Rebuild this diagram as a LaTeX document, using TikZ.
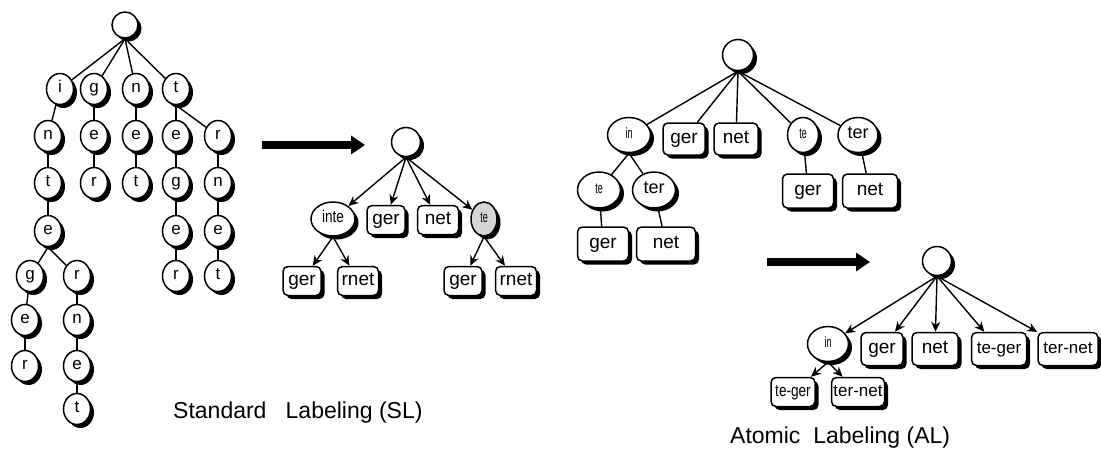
\documentclass[tikz,border=0pt]{standalone}
\usepackage{fontspec}
\setmainfont{Liberation Sans}
\newfontfamily\condfont[FakeStretch=0.8]{Liberation Sans}
\newfontfamily\tightfont[FakeStretch=0.6]{Liberation Sans}
\usetikzlibrary{shapes.geometric,shadows,arrows.meta}
\definecolor{lightgrey}{gray}{0.84}
\tikzset{
  shadowed/.style={drop shadow={shadow xshift=3.5pt,shadow yshift=-3.5pt,fill=black,opacity=1}},
  rootnode/.style={circle,draw,line width=1.5pt,fill=white,shadowed,minimum size=27pt,inner sep=0pt},
  trienode/.style={ellipse,draw,line width=1.5pt,fill=white,shadowed,text height=10pt,text depth=2.5pt,minimum width=27pt,minimum height=31pt,inner sep=0pt,font=\fontsize{17}{17}\selectfont},
  ovalnode/.style={ellipse,draw,line width=1.5pt,fill=white,shadowed,text height=9pt,text depth=2.5pt,inner sep=0pt},
  boxnode/.style={rectangle,rounded corners=5pt,draw,line width=1.5pt,fill=white,shadowed,text height=11pt,text depth=3pt,minimum height=28pt,inner sep=0pt,font=\fontsize{19}{19}\selectfont},
  edge/.style={line width=1.4pt},
  arr/.style={line width=1.4pt,-{Stealth[length=10pt,width=9pt]}},
  bigarrow/.style={line width=8pt,-{Triangle[length=14pt,width=18pt]}},
  caption/.style={anchor=west,inner sep=0pt,font=\fontsize{23}{23}\selectfont}
}
\begin{document}
\begin{tikzpicture}[x=1pt,y=-1pt]
\useasboundingbox (0,0) rectangle (1101,450);
\fill[white] (0,0) rectangle (1101,450);

% ---------- character trie ----------
\node[rootnode,minimum size=26pt] (sr) at (125,25) {};
\node[trienode] (ti)  at (60,89)  {i};
\node[trienode] (tg)  at (94,89)  {g};
\node[trienode] (tn)  at (136,89) {n};
\node[trienode] (tt)  at (176,89) {t};
\node[trienode] (in2) at (48,136)  {n};
\node[trienode] (ge2) at (94,136)  {e};
\node[trienode] (ne2) at (136,136) {e};
\node[trienode] (te2) at (176,136) {e};
\node[trienode] (tr2) at (218,136) {r};
\node[trienode] (in3) at (48,183)  {t};
\node[trienode] (ge3) at (94,183)  {r};
\node[trienode] (ne3) at (136,183) {t};
\node[trienode] (te3) at (176,183) {g};
\node[trienode] (tr3) at (218,183) {n};
\node[trienode] (in4) at (48,231)  {e};
\node[trienode] (te4) at (176,231) {e};
\node[trienode] (tr4) at (218,231) {e};
\node[trienode] (ig5) at (30,276)  {g};
\node[trienode] (ir5) at (77,276)  {r};
\node[trienode] (te5) at (176,276) {r};
\node[trienode] (tr5) at (218,276) {t};
\node[trienode] (ig6) at (25,320)  {e};
\node[trienode] (ir6) at (77,320)  {n};
\node[trienode] (ig7) at (25,366)  {r};
\node[trienode] (ir7) at (77,366)  {e};
\node[trienode] (ir8) at (77,409)  {t};

\foreach \c in {ti,tg,tn,tt} \draw[edge] (sr.south) -- (\c);
\draw[edge] (ti) -- (in2);
\draw[edge] (in2) -- (in3);
\draw[edge] (in3) -- (in4);
\draw[edge] (in4.south) -- (ig5);
\draw[edge] (in4.south) -- (ir5);
\draw[edge] (ig5) -- (ig6);
\draw[edge] (ig6) -- (ig7);
\draw[edge] (ir5) -- (ir6);
\draw[edge] (ir6) -- (ir7);
\draw[edge] (ir7) -- (ir8);
\draw[edge] (tg) -- (ge2);
\draw[edge] (ge2) -- (ge3);
\draw[edge] (tn) -- (ne2);
\draw[edge] (ne2) -- (ne3);
\draw[edge] (tt.south) -- (te2);
\draw[edge] (tt.south) -- (tr2);
\draw[edge] (te2) -- (te3);
\draw[edge] (te3) -- (te4);
\draw[edge] (te4) -- (te5);
\draw[edge] (tr2) -- (tr3);
\draw[edge] (tr3) -- (tr4);
\draw[edge] (tr4) -- (tr5);

% ---------- first transformation arrow ----------
\coordinate (a1s) at (262,145);
\coordinate (a1e) at (365,145);
\draw[bigarrow] (a1s) -- (a1e);

% ---------- standard labeling tree ----------
\node[rootnode,minimum size=29pt] (mr) at (406,142) {};
\node[ovalnode,minimum width=44pt,minimum height=34pt,font=\condfont\fontsize{17}{17}\selectfont] (minte) at (333,219) {inte};
\node[boxnode,minimum width=38pt,minimum height=29pt] (mger) at (386,220) {ger};
\node[boxnode,minimum width=41pt,minimum height=29pt] (mnet) at (438,220) {net};
\node[ovalnode,fill=lightgrey,minimum width=26pt,minimum height=34pt,font=\tightfont\fontsize{15}{15}\selectfont] (mte) at (484,219) {te};
\node[boxnode,minimum width=38pt,minimum height=29pt] (mger2) at (302,281) {ger};
\node[boxnode,minimum width=41pt,minimum height=29pt] (mrnet) at (358,281) {rnet};
\node[boxnode,minimum width=38pt,minimum height=29pt] (mger3) at (463,281) {ger};
\node[boxnode,minimum width=41pt,minimum height=29pt] (mrnet2) at (516,281) {rnet};

\foreach \c in {minte,mger,mnet,mte} \draw[arr] (mr.south) -- (\c);
\draw[arr] (minte.south) -- (mger2);
\draw[arr] (minte.south) -- (mrnet);
\draw[arr] (mte.south) -- (mger3);
\draw[arr] (mte.south) -- (mrnet2);

\node[caption] (slcap) at (173,413) {Standard\ \ \ Labeling (SL)};

% ---------- atomic labeling, intermediate tree ----------
\node[rootnode,minimum size=31pt] (ar) at (738,55) {};
\node[ovalnode,minimum width=43pt,minimum height=35pt,font=\tightfont\fontsize{15}{15}\selectfont] (ain) at (629,135) {in};
\node[boxnode,minimum width=42pt,minimum height=32pt] (ager) at (684,139) {ger};
\node[boxnode,minimum width=44pt,minimum height=32pt] (anet) at (736,139) {net};
\node[ovalnode,minimum width=31pt,minimum height=35pt,font=\tightfont\fontsize{15}{15}\selectfont] (ate) at (803,135) {te};
\node[ovalnode,minimum width=40pt,minimum height=35pt,font=\fontsize{18}{18}\selectfont] (ater) at (858,135) {ter};
\node[ovalnode,minimum width=43pt,minimum height=36pt,font=\tightfont\fontsize{15}{15}\selectfont] (ate2) at (599,190) {te};
\node[ovalnode,minimum width=43pt,minimum height=36pt,font=\fontsize{18}{18}\selectfont] (ater2) at (654,190) {ter};
\node[boxnode,minimum width=51pt,minimum height=34pt] (agerR) at (808,191) {ger};
\node[boxnode,minimum width=55pt,minimum height=34pt] (anetR) at (870,191) {net};
\node[boxnode,minimum width=51pt,minimum height=34pt] (agerL) at (603,244) {ger};
\node[boxnode,minimum width=59pt,minimum height=34pt] (anetL) at (666,244) {net};

\foreach \c in {ain,ager,anet,ate,ater} \draw[edge] (ar.south) -- (\c);
\draw[edge] (ain.south) -- (ate2);
\draw[edge] (ain.south) -- (ater2);
\draw[edge] (ate2) -- (agerL);
\draw[edge] (ater2) -- (anetL);
\draw[edge] (ate) -- (agerR);
\draw[edge] (ater) -- (anetR);

% ---------- second transformation arrow ----------
\coordinate (a2s) at (767,262);
\coordinate (a2e) at (870,262);
\draw[bigarrow] (a2s) -- (a2e);

% ---------- atomic labeling tree ----------
\node[rootnode,minimum size=29pt] (br) at (937,261) {};
\node[ovalnode,minimum width=41pt,minimum height=35pt,font=\tightfont\fontsize{15}{15}\selectfont] (bin) at (828,344) {in};
\node[boxnode,minimum width=42pt,minimum height=33pt] (bger) at (882,349) {ger};
\node[boxnode,minimum width=46pt,minimum height=33pt] (bnet) at (935,349) {net};
\node[boxnode,minimum width=55pt,minimum height=33pt,font=\fontsize{17}{17}\selectfont] (bteger) at (999,349) {te-ger};
\node[boxnode,minimum width=60pt,minimum height=33pt,font=\fontsize{17}{17}\selectfont] (bternet) at (1068,349) {ter-net};
\node[boxnode,minimum width=44pt,minimum height=29pt,font=\condfont\fontsize{17}{17}\selectfont] (bteger2) at (793,392) {te-ger};
\node[boxnode,minimum width=53pt,minimum height=29pt,font=\fontsize{17}{17}\selectfont] (bternet2) at (858,392) {ter-net};

\foreach \c in {bin,bger,bnet,bteger,bternet} \draw[arr] (br.south) -- (\c);
\draw[arr] (bin.south) -- (bteger2);
\draw[arr] (bin.south) -- (bternet2);

\node[caption] (alcap) at (730,438) {Atomic\ \ Labeling (AL)};
\end{tikzpicture}
\end{document}
